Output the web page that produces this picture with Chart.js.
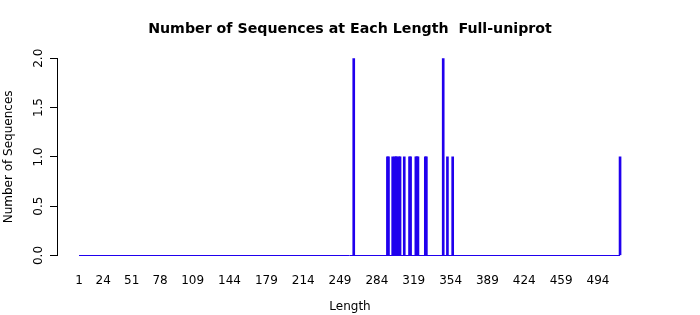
<!DOCTYPE html>
<html>
<head>
<meta charset="utf-8">
<script src="https://cdn.jsdelivr.net/npm/chart.js@4.4.1/dist/chart.umd.min.js"></script>
<style>
  html, body { margin: 0; padding: 0; background: #fff; }
  #wrap { width: 700px; height: 315px; }
</style>
</head>
<body>
<div id="wrap"><canvas id="lenChart" width="700" height="315"></canvas></div>
<script>
// Sequence lengths that have at least one sequence, and how many
const lengths = [262, 294, 295, 299, 301, 302, 303, 305, 306, 310, 315, 316,
                 321, 322, 323, 330, 331, 347, 351, 356, 515];
const counts  = [2, 1, 1, 1, 1, 1, 1, 1, 1, 1, 1, 1,
                 1, 1, 1, 1, 1, 2, 1, 1, 1];
// full category range shown on the plot (first and last length)
const lengthRange = [1, 515];
const xTickLabels = [1, 24, 51, 78, 109, 144, 179, 214, 249, 284, 319, 354, 389, 424, 459, 494];
const yTickValues = [0, 0.5, 1, 1.5, 2];

Chart.defaults.font.family = "'DejaVu Sans', sans-serif";
Chart.defaults.color = "#000";

const barColor = "#2000ee";

const ctx = document.getElementById("lenChart").getContext("2d");
const lenChart = new Chart(ctx, {
  type: "bar",
  data: {
    datasets: [
      {
        type: "line",
        data: lengthRange.map(v => ({ x: v, y: 0 })),
        borderColor: barColor,
        borderWidth: 1,
        pointRadius: 0,
        clip: false,
        order: 2
      },
      {
        type: "bar",
        data: lengths.map((v, i) => ({ x: v, y: counts[i] })),
        backgroundColor: barColor,
        barThickness: 2,
        order: 1
      }
    ]
  },
  options: {
    responsive: false,
    animation: false,
    events: [],
    layout: { padding: 0 },
    plugins: {
      legend: { display: false },
      tooltip: { enabled: false },
      title: {
        display: true,
        text: "Number of Sequences at Each Length  Full-uniprot",
        font: { size: 14.2, weight: "bold" },
        color: "#000",
        padding: { top: 21, bottom: 20.2 }
      }
    },
    scales: {
      x: {
        type: "linear",
        offset: false,
        min: -19.9,
        max: 536.8,
        grid: { display: false, drawTicks: false, offset: false },
        border: { display: false },
        ticks: { font: { size: 12 }, padding: 18, maxRotation: 0, autoSkip: false },
        afterBuildTicks: (scale) => {
          scale.ticks = xTickLabels.map(v => ({ value: v }));
        },
        afterFit: (scale) => { scale.height = 59.5; },
        title: {
          display: true,
          text: "Length",
          font: { size: 12 },
          padding: { top: 0, bottom: 1 }
        }
      },
      y: {
        min: 0,
        max: 2,
        grid: { drawOnChartArea: false, tickLength: 7, color: "#000" },
        border: { display: true, color: "#000", width: 1 },
        ticks: {
          font: { size: 12 },
          padding: 1.5,
          minRotation: 90,
          maxRotation: 90,
          crossAlign: "center",
          callback: (v) => Number(v).toFixed(1)
        },
        afterBuildTicks: (scale) => {
          scale.ticks = yTickValues.map(v => ({ value: v }));
        },
        afterFit: (scale) => { scale.width = 57; },
        title: {
          display: true,
          text: "Number of Sequences",
          font: { size: 12 },
          padding: { top: 2, bottom: 0 }
        }
      },
      // empty right margin so the plot region is centred like the original
      yRight: {
        position: "right",
        display: true,
        grid: { display: false, drawTicks: false },
        border: { display: false },
        ticks: { display: false },
        afterFit: (scale) => { scale.width = 57; }
      }
    }
  }
});
</script>
</body>
</html>
